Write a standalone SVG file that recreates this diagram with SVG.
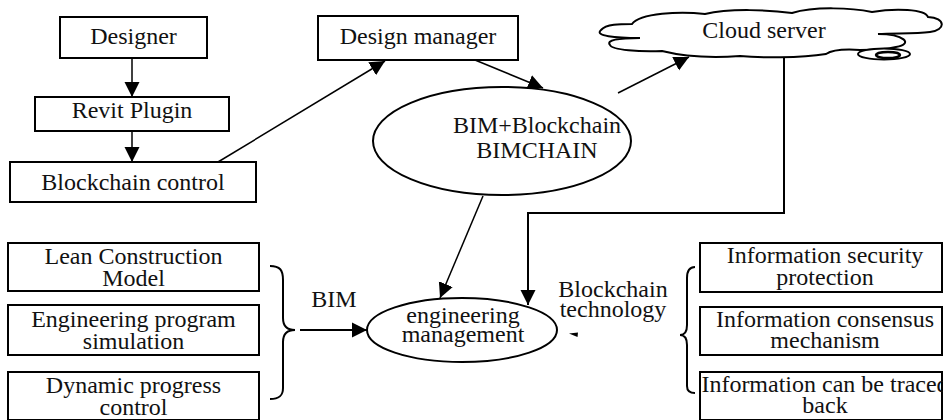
<svg xmlns="http://www.w3.org/2000/svg" width="943" height="420" viewBox="0 0 943 420">
  <defs>
    <style>
      .box { fill: #fff; stroke: #000; stroke-width: 2; }
      .oval { fill: #fff; stroke: #000; stroke-width: 2; }
      .lbl { font-family: 'Liberation Serif', 'Times New Roman', Times, 'DejaVu Serif', serif; font-size: 24px; fill: #111; text-anchor: middle; }
      .edge { fill: none; stroke: #000; stroke-width: 1.5; }
      .brace { fill: none; stroke: #000; stroke-width: 2; }
    </style>
    <marker id="arrow" markerUnits="userSpaceOnUse" markerWidth="16" markerHeight="16" refX="15" refY="8" orient="auto">
      <path d="M0,0.5 L15,8 L0,15.5 Z" fill="#000"/>
    </marker>
  </defs>

  <rect width="943" height="420" fill="#fff"/>

  <!-- connectors -->
  <g id="connectors">
    <line class="edge" x1="132" y1="59" x2="132" y2="97" marker-end="url(#arrow)"/>
    <line class="edge" x1="132" y1="131" x2="132" y2="162" marker-end="url(#arrow)"/>
    <line class="edge" x1="218" y1="162" x2="385" y2="61" marker-end="url(#arrow)"/>
    <line class="edge" x1="475" y1="60" x2="543" y2="88" marker-end="url(#arrow)"/>
    <line class="edge" x1="618" y1="93" x2="689" y2="57" marker-end="url(#arrow)"/>
    <line class="edge" x1="483" y1="196" x2="440" y2="298" marker-end="url(#arrow)"/>
    <polyline class="edge" points="784,57 784,213 528,213 528,305" marker-end="url(#arrow)" style="stroke-width:2"/>
    <line class="edge" x1="300" y1="330" x2="367" y2="330" marker-end="url(#arrow)" style="stroke-width:2"/>
    <path d="M569,333.5 L578,332.5 L577.5,337 Z" fill="#000"/>
  </g>

  <!-- top chain -->
  <g id="designer">
    <rect class="box" x="60" y="17" width="147" height="41"/>
    <text class="lbl" x="133.5" y="44" font-family="Liberation Serif, serif">Designer</text>
  </g>
  <g id="revit-plugin">
    <rect class="box" x="35" y="97" width="194" height="34"/>
    <text class="lbl" x="132" y="118">Revit Plugin</text>
  </g>
  <g id="blockchain-control">
    <rect class="box" x="10" y="162" width="246" height="40"/>
    <text class="lbl" x="133" y="190">Blockchain control</text>
  </g>
  <g id="design-manager">
    <rect class="box" x="318" y="16" width="200" height="44"/>
    <text class="lbl" x="418" y="44">Design manager</text>
  </g>
  <g id="bimchain">
    <ellipse class="oval" cx="502" cy="141" rx="129" ry="54"/>
    <text class="lbl" x="537" y="133">BIM+Blockchain</text>
    <text class="lbl" x="537" y="158">BIMCHAIN</text>
  </g>

  <!-- cloud server -->
  <g id="cloud-server">
    <path class="box" d="M632,24 C640,13 680,11 705,14 C730,8 770,10 792,13 C815,6 852,8 872,12 C895,8 925,9 928,17 C946,18 946,30 930,32 C915,34 895,33 878,34 C904,34 914,44 896,47 C885,50 870,50 860,50 C845,49 832,50 826,54 C800,58 760,58 740,56 C712,58 682,56 662,51 C640,52 612,50 610,45 C606,40 618,38 640,38 C615,38 594,36 601,30 C606,24 620,24 632,24 Z"/>
    <ellipse cx="884" cy="54" rx="26" ry="5.5" fill="#fff" stroke="#000" stroke-width="2"/>
    <ellipse cx="888" cy="55" rx="12" ry="3" fill="none" stroke="#000" stroke-width="2.5"/>
    <text class="lbl" x="764" y="38">Cloud server</text>
  </g>

  <!-- engineering management -->
  <g id="engineering-management">
    <ellipse class="oval" cx="462" cy="330" rx="95" ry="32"/>
    <text class="lbl" x="463" y="323">engineering</text>
    <text class="lbl" x="463" y="342">management</text>
  </g>

  <!-- BIM side -->
  <g id="lean-construction-model">
    <rect class="box" x="8" y="243" width="251" height="48"/>
    <text class="lbl" x="133.5" y="264">Lean Construction</text>
    <text class="lbl" x="133.5" y="286">Model</text>
  </g>
  <g id="engineering-program-simulation">
    <rect class="box" x="8" y="305" width="251" height="50"/>
    <text class="lbl" x="133.5" y="327">Engineering program</text>
    <text class="lbl" x="133.5" y="349">simulation</text>
  </g>
  <g id="dynamic-progress-control">
    <rect class="box" x="8" y="372" width="251" height="48"/>
    <text class="lbl" x="133.5" y="393">Dynamic progress</text>
    <text class="lbl" x="133.5" y="415">control</text>
  </g>
  <g id="bim-brace">
    <path class="brace" d="M270,266 C280,266 283,270 283,280 L283,318 C283,326 287,330 295,330 C287,330 283,334 283,342 L283,388 C283,396 279,399 270,399"/>
    <text class="lbl" x="334" y="307">BIM</text>
  </g>

  <!-- Blockchain side -->
  <g id="blockchain-brace">
    <path class="brace" d="M695,267 C689,267 687,271 687,278 L687,325 C687,332 684,335 680,335 C684,335 687,338 687,345 L687,386 C687,391 690,393 695,393"/>
    <text class="lbl" x="613" y="297">Blockchain</text>
    <text class="lbl" x="613" y="317">technology</text>
  </g>
  <g id="information-security-protection">
    <rect class="box" x="700" y="243" width="242" height="49"/>
    <text class="lbl" x="825" y="263">Information security</text>
    <text class="lbl" x="825" y="285">protection</text>
  </g>
  <g id="information-consensus-mechanism">
    <rect class="box" x="700" y="307" width="242" height="48"/>
    <text class="lbl" x="825" y="327">Information consensus</text>
    <text class="lbl" x="825" y="348">mechanism</text>
  </g>
  <g id="information-traceability">
    <rect class="box" x="700" y="372" width="242" height="48"/>
    <text class="lbl" x="825" y="392">Information can be traced</text>
    <text class="lbl" x="825" y="413">back</text>
  </g>
</svg>
